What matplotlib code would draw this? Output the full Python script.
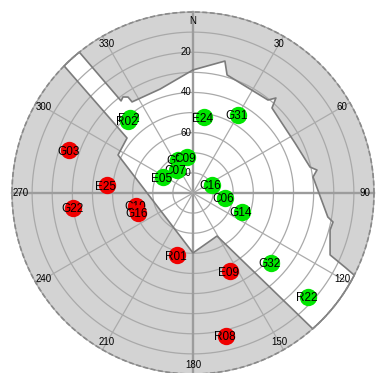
import numpy as np
import matplotlib.pyplot as plt

# satellites above the horizon: name, azimuth (deg), elevation (deg)
green_names = ['R12', 'R02', 'E24', 'G31', 'G26', 'C09', 'C07', 'E05',
               'C16', 'C06', 'G14', 'G32', 'R22']
green_az = [320, 318, 8, 30, 336, 350, 325, 297, 67, 99, 111, 132, 132]
green_el = [41, 42, 52, 45, 72, 72, 76, 73, 80, 74, 64, 38, 13]

red_names = ['G03', 'E25', 'G22', 'C10', 'G16', 'R01', 'E09', 'R08']
red_az = [289, 275, 263, 257, 250, 194, 155, 167]
red_el = [25, 47, 30, 61, 61, 58, 47, 17]

# obstruction mask: open-sky edge as azimuth / elevation pairs
mask_az = [0, 13.6, 16.1, 38.9, 41.1, 42.9, 63.9, 77.5, 79.5, 82.4, 100.1,
           101.7, 105.1, 114.3, 116.0, 117.0, 138.6, 150.8, 180.0, 296.9,
           309.8, 314.6, 321.1, 322.0, 323.9, 325.9, 326.2, 342.4]
mask_el = [28.8, 22.5, 28.9, 30.6, 27.3, 32.3, 33.5, 30.4, 27.3, 29.8, 21.9,
           18.9, 19.4, 15.2, 6.0, 0, 0, 65.5, 60.2, 48.2,
           47.3, 0, 0, 31.9, 30.9, 32.4, 35.5, 35.8]

az_ticks = [0, 30, 60, 90, 120, 150, 180, 210, 240, 270, 300, 330]
az_labels = ['N', '30', '60', '90', '120', '150', '180', '210', '240', '270', '300', '330']
el_ticks = [20, 40, 60, 80]


def to_xy(az, el):
    r = 90 - np.asarray(el, dtype=float)
    a = np.radians(az)
    return r * np.sin(a), r * np.cos(a)


fig = plt.figure(figsize=(3.76, 3.73), dpi=100)
ax = fig.add_axes([0, 0, 1, 1])
ax.set_xlim(-95.97, 91.0)
ax.set_ylim(-89.5, 95.97)
ax.set_aspect('equal')
ax.axis('off')

# blocked sky
t = np.linspace(0, 2 * np.pi, 361)
ax.fill(90 * np.cos(t), 90 * np.sin(t), color='#d3d3d3', lw=0, zorder=1)

# open sky polygon, following the horizon where the mask is at 0 deg
px, py = [], []
n = len(mask_az)
for i in range(n):
    x, y = to_xy(mask_az[i], mask_el[i])
    px.append(x)
    py.append(y)
    j = (i + 1) % n
    if mask_el[i] == 0 and mask_el[j] == 0:
        arc = np.linspace(mask_az[i], mask_az[j], 30)[1:-1]
        ax_, ay_ = to_xy(arc, np.zeros_like(arc))
        px.extend(ax_)
        py.extend(ay_)
ax.fill(px, py, color='white', lw=0, zorder=2)

# grid
for el in range(0, 90, 10):
    r = 90 - el
    ax.plot(r * np.cos(t), r * np.sin(t), color='#a9a9a9', lw=0.9, zorder=3)
for az in az_ticks:
    x, y = to_xy(az, 0)
    main = az % 90 == 0
    ax.plot([0, x], [0, y], color='#9c9c9c' if main else '#ababab',
            lw=1.7 if main else 0.9, zorder=3)

# mask outline
ax.plot(px + [px[0]], py + [py[0]], color='#7c7c7c', lw=1.2, zorder=4)
ax.plot(90 * np.cos(t), 90 * np.sin(t), color='#8a8a8a', lw=1.2,
        ls=(0, (3, 1.5)), zorder=4)

# labels
for az, lab in zip(az_ticks, az_labels):
    x, y = to_xy(az, 4.5)
    ax.text(x, y, lab, ha='center', va='center', fontsize=7,
            family='Liberation Sans', zorder=5)
for el in el_ticks:
    ax.text(-0.8, 90 - el, str(el), ha='right', va='center', fontsize=7,
            family='Liberation Sans', zorder=5)

# satellites
z = 6
for names, azs, els, col in [(green_names, green_az, green_el, '#00e600'),
                             (red_names, red_az, red_el, '#f00000')]:
    for name, az, el in zip(names, azs, els):
        x, y = to_xy(az, el)
        ax.plot(x, y, 'o', ms=12.5, color=col, mec='none', zorder=z)
        ax.text(x - 0.6, y - 0.6, name, ha='center', va='center', fontsize=8.5,
                family='Liberation Sans', zorder=z + 1)
        z += 2

fig.savefig('out.png', dpi=100)
